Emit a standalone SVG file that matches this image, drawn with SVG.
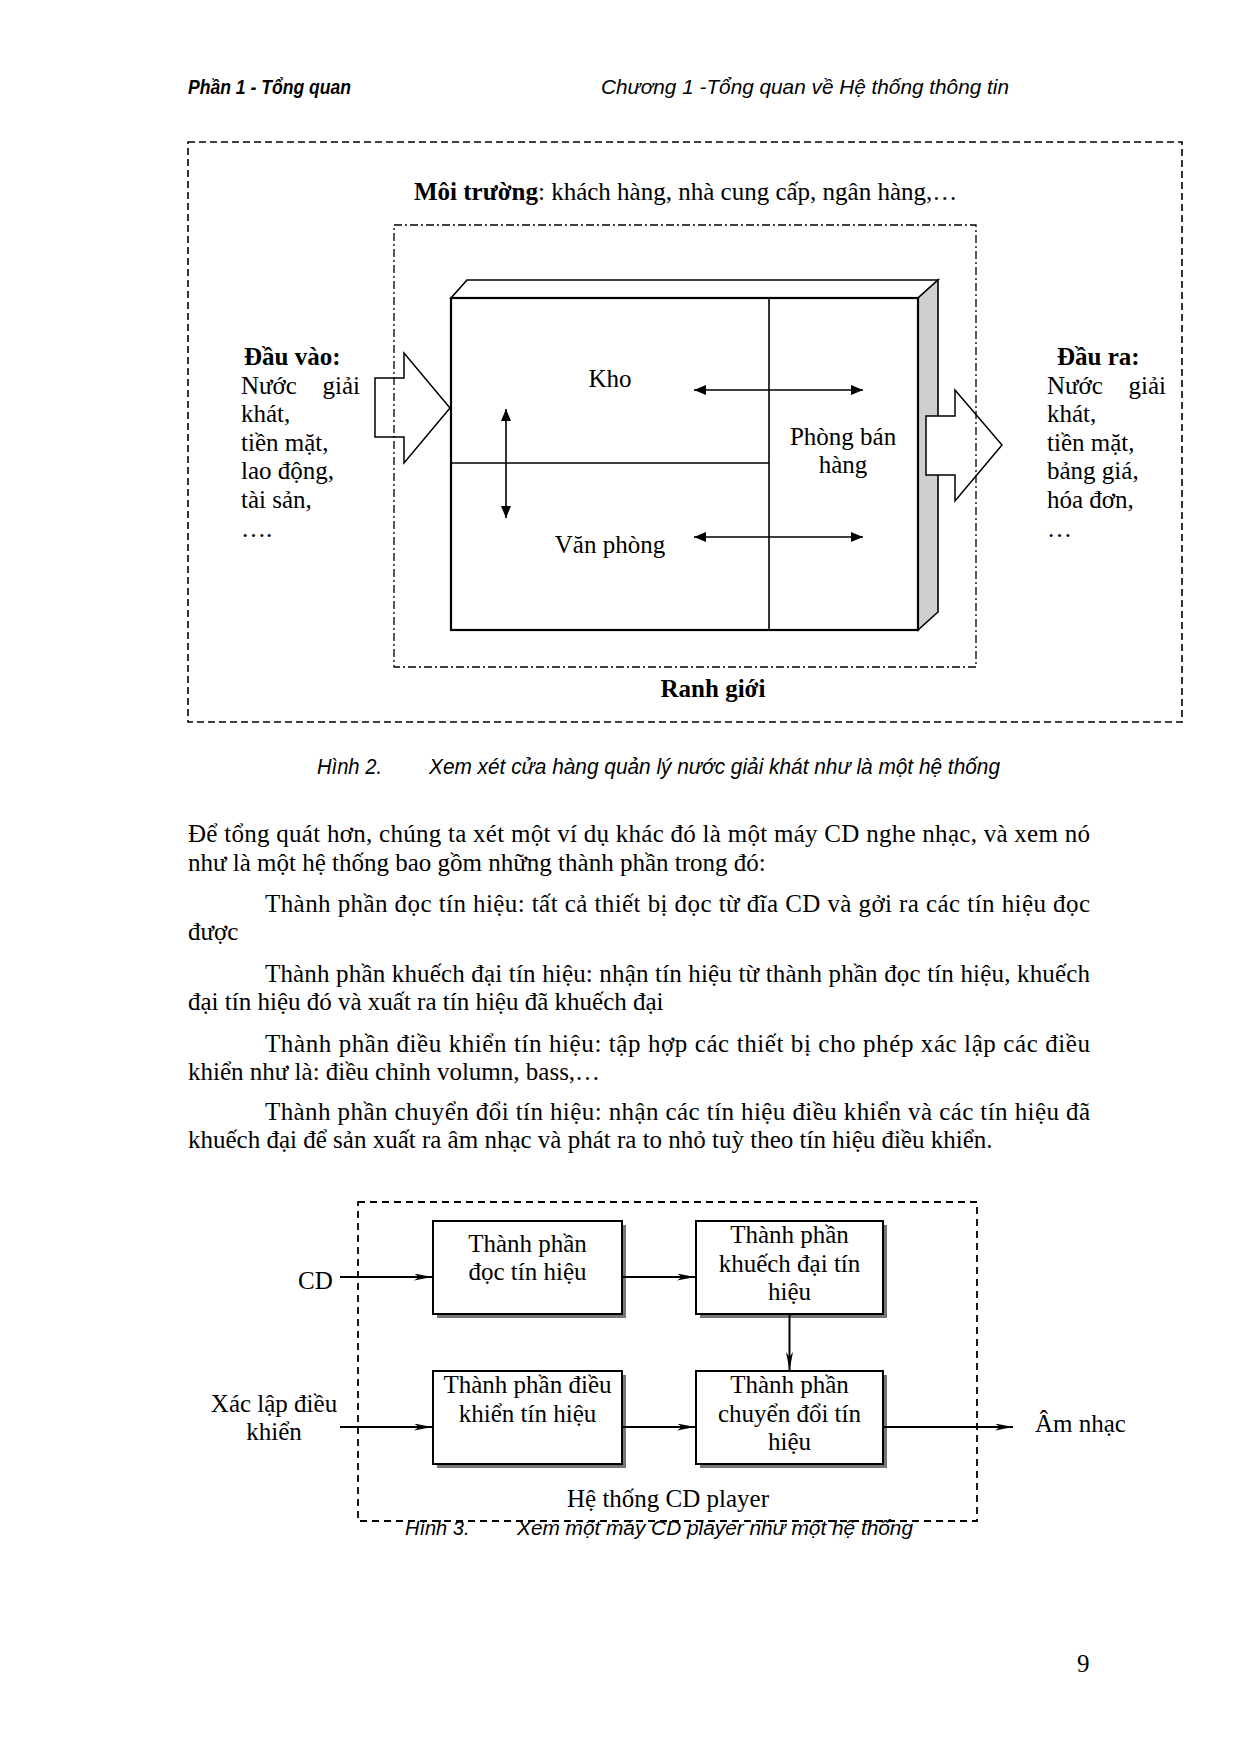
<svg xmlns="http://www.w3.org/2000/svg" width="1240" height="1754" viewBox="0 0 1240 1754">
<style>
.t{font-family:"Liberation Serif","Times New Roman",serif;font-size:25px;fill:#000}
.b{font-weight:bold}
.mid{text-anchor:middle}
.end{text-anchor:end}
.sans{font-family:"Liberation Sans",Arial,sans-serif;font-style:italic;fill:#000}
.env{fill:none;stroke:#000;stroke-width:1.6;stroke-dasharray:7 4}
.bnd{fill:none;stroke:#000;stroke-width:1.3;stroke-dasharray:8 3 2 3}
.ln{fill:none;stroke:#000;stroke-width:1.6}
.blk{fill:#fff;stroke:#000;stroke-width:1.5}
.box{fill:#fff;stroke:#000;stroke-width:2}
.shd{fill:#777}
.sys{fill:none;stroke:#000;stroke-width:1.8;stroke-dasharray:7 5}
.con{fill:none;stroke:#000;stroke-width:2}
</style>
<defs>
<marker id="tri" viewBox="0 0 12 10" refX="12" refY="5" markerWidth="12" markerHeight="10" markerUnits="userSpaceOnUse" orient="auto-start-reverse"><path d="M0,0 L12,5 L0,10 z" fill="#000"/></marker>
<marker id="stl" viewBox="0 0 18 7" refX="18" refY="3.5" markerWidth="18" markerHeight="7" markerUnits="userSpaceOnUse" orient="auto"><path d="M0,0 L18,3.5 L0,7 L5,3.5 z" fill="#000"/></marker>
</defs>
<rect width="1240" height="1754" fill="#fff"/>

<!-- Header -->
<g id="header">
<text class="sans" x="188" y="94" font-size="21" font-weight="bold" textLength="163" lengthAdjust="spacingAndGlyphs">Phần 1 - Tổng quan</text>
<text class="sans" x="601" y="94" font-size="21" textLength="408" lengthAdjust="spacingAndGlyphs">Chương 1 -Tổng quan về Hệ thống thông tin</text>
</g>

<!-- Figure 2 -->
<g id="fig2-environment">
<rect class="env" x="188" y="142" width="994" height="580"/>
<text class="t" x="414" y="200"><tspan class="b">Môi trường</tspan>: khách hàng, nhà cung cấp, ngân hàng,…</text>
</g>

<g id="fig2-input">
<text class="t b" x="244" y="365">Đầu vào:</text>
<text class="t" x="241" y="394">Nước</text>
<text class="t end" x="360" y="394">giải</text>
<text class="t" x="241" y="422">khát,</text>
<text class="t" x="241" y="451">tiền mặt,</text>
<text class="t" x="241" y="479">lao động,</text>
<text class="t" x="241" y="508">tài sản,</text>
<text class="t" x="241" y="537">….</text>
</g>

<g id="fig2-output">
<text class="t b" x="1057" y="365">Đầu ra:</text>
<text class="t" x="1047" y="394">Nước</text>
<text class="t end" x="1166" y="394">giải</text>
<text class="t" x="1047" y="422">khát,</text>
<text class="t" x="1047" y="451">tiền mặt,</text>
<text class="t" x="1047" y="479">bảng giá,</text>
<text class="t" x="1047" y="508">hóa đơn,</text>
<text class="t" x="1047" y="537">…</text>
</g>

<g id="fig2-system">
<polygon points="451,298 467,280 938,280 918,298" fill="#fff" stroke="#000" stroke-width="1.6"/>
<polygon points="918,298 938,280 938,612 918,630" fill="#cfcfcf" stroke="#000" stroke-width="1.6"/>
<rect x="451" y="298" width="467" height="332" fill="#fff" stroke="#000" stroke-width="2.2"/>
<line class="ln" x1="769" y1="298" x2="769" y2="630"/>
<line class="ln" x1="451" y1="463" x2="769" y2="463"/>
</g>

<g id="fig2-kho"><text class="t mid" x="610" y="387">Kho</text></g>
<g id="fig2-vanphong"><text class="t mid" x="610" y="553">Văn phòng</text></g>
<g id="fig2-phongban"><text class="t mid" x="843" y="445">Phòng bán</text><text class="t mid" x="843" y="473">hàng</text></g>

<g id="fig2-connectors">
<polygon class="blk" points="375,378 404,378 404,353 450,408 404,463 404,437 375,437"/>
<polygon class="blk" points="926,416 955,416 955,390 1002,445 955,501 955,475 926,475"/>
<line class="ln" x1="694" y1="390" x2="863" y2="390" marker-start="url(#tri)" marker-end="url(#tri)"/>
<line class="ln" x1="694" y1="537" x2="863" y2="537" marker-start="url(#tri)" marker-end="url(#tri)"/>
<line class="ln" x1="506" y1="409" x2="506" y2="518" marker-start="url(#tri)" marker-end="url(#tri)"/>
</g>

<g id="fig2-boundary">
<rect class="bnd" x="394" y="225" width="582" height="442"/>
<text class="t b mid" x="713" y="697">Ranh giới</text>
</g>

<g id="fig2-caption">
<text class="sans" x="317" y="774" font-size="22" textLength="65" lengthAdjust="spacingAndGlyphs">Hình 2.</text>
<text class="sans" x="429" y="774" font-size="22" textLength="571" lengthAdjust="spacingAndGlyphs">Xem xét cửa hàng quản lý nước giải khát như là một hệ thống</text>
</g>

<!-- Body text -->
<g id="body">
<text class="t" x="188" y="842" textLength="902" lengthAdjust="spacing">Để tổng quát hơn, chúng ta xét một ví dụ khác đó là một máy CD nghe nhạc, và xem nó</text>
<text class="t" x="188" y="871">như là một hệ thống bao gồm những thành phần trong đó:</text>
<text class="t" x="265" y="912" textLength="825" lengthAdjust="spacing">Thành phần đọc tín hiệu: tất cả thiết bị đọc từ đĩa CD và gởi ra các tín hiệu đọc</text>
<text class="t" x="188" y="940">được</text>
<text class="t" x="265" y="982" textLength="825" lengthAdjust="spacing">Thành phần khuếch đại tín hiệu: nhận tín hiệu từ thành phần đọc tín hiệu, khuếch</text>
<text class="t" x="188" y="1010">đại tín hiệu đó và xuất ra tín hiệu đã khuếch đại</text>
<text class="t" x="265" y="1052" textLength="825" lengthAdjust="spacing">Thành phần điều khiển tín hiệu: tập hợp các thiết bị cho phép xác lập các điều</text>
<text class="t" x="188" y="1080">khiển như là: điều chỉnh volumn, bass,…</text>
<text class="t" x="265" y="1120" textLength="825" lengthAdjust="spacing">Thành phần chuyển đổi tín hiệu: nhận các tín hiệu điều khiển và các tín hiệu đã</text>
<text class="t" x="188" y="1148">khuếch đại để sản xuất ra âm nhạc và phát ra to nhỏ tuỳ theo tín hiệu điều khiển.</text>
</g>

<!-- Figure 3 -->
<g id="fig3-system">
<rect class="sys" x="358" y="1202" width="619" height="319"/>
<text class="t" x="567" y="1507">Hệ thống CD player</text>
</g>

<g id="fig3-cd"><text class="t" x="298" y="1289">CD</text></g>
<g id="fig3-xaclap"><text class="t mid" x="274" y="1412">Xác lập điều</text><text class="t mid" x="274" y="1440">khiển</text></g>
<g id="fig3-amnhac"><text class="t" x="1035" y="1432">Âm nhạc</text></g>

<g id="fig3-read">
<rect class="shd" x="437" y="1225" width="189" height="93"/>
<rect class="box" x="433" y="1221" width="189" height="93"/>
<text class="t mid" x="527.5" y="1252">Thành phần</text>
<text class="t mid" x="527.5" y="1280">đọc tín hiệu</text>
</g>
<g id="fig3-amp">
<rect class="shd" x="700" y="1225" width="187" height="93"/>
<rect class="box" x="696" y="1221" width="187" height="93"/>
<text class="t mid" x="789.5" y="1243">Thành phần</text>
<text class="t mid" x="789.5" y="1272">khuếch đại tín</text>
<text class="t mid" x="789.5" y="1300">hiệu</text>
</g>
<g id="fig3-ctrl">
<rect class="shd" x="437" y="1375" width="189" height="93"/>
<rect class="box" x="433" y="1371" width="189" height="93"/>
<text class="t mid" x="527.5" y="1393">Thành phần điều</text>
<text class="t mid" x="527.5" y="1422">khiển tín hiệu</text>
</g>
<g id="fig3-conv">
<rect class="shd" x="700" y="1375" width="187" height="93"/>
<rect class="box" x="696" y="1371" width="187" height="93"/>
<text class="t mid" x="789.5" y="1393">Thành phần</text>
<text class="t mid" x="789.5" y="1422">chuyển đổi tín</text>
<text class="t mid" x="789.5" y="1450">hiệu</text>
</g>

<g id="fig3-connectors">
<line class="con" x1="340" y1="1277" x2="432" y2="1277" marker-end="url(#stl)"/>
<line class="con" x1="622" y1="1277" x2="695" y2="1277" marker-end="url(#stl)"/>
<line class="con" x1="789.5" y1="1314" x2="789.5" y2="1370" marker-end="url(#stl)"/>
<line class="con" x1="340" y1="1427" x2="432" y2="1427" marker-end="url(#stl)"/>
<line class="con" x1="622" y1="1427" x2="695" y2="1427" marker-end="url(#stl)"/>
<line class="con" x1="883" y1="1427" x2="1013" y2="1427" marker-end="url(#stl)"/>
</g>

<g id="fig3-caption">
<text class="sans" x="405" y="1535" font-size="20">Hình 3.</text>
<text class="sans" x="517" y="1535" font-size="20" textLength="396" lengthAdjust="spacingAndGlyphs">Xem một máy CD player như một hệ thống</text>
</g>

<g id="page-number"><text class="t" x="1077" y="1672" font-size="21">9</text></g>
</svg>
